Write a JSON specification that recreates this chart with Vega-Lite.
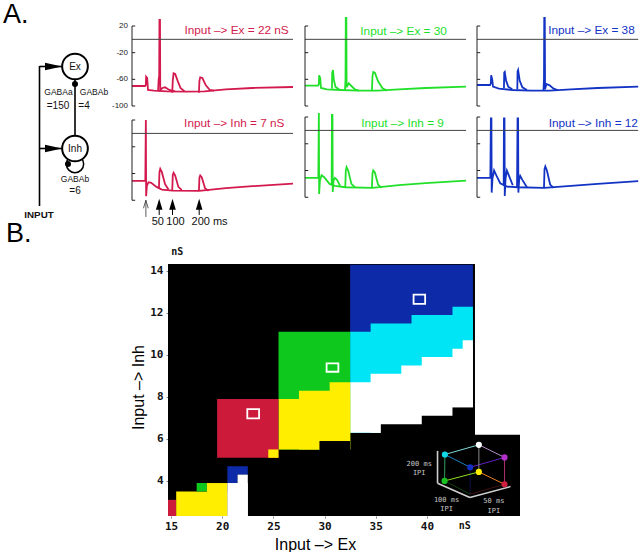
{"$schema":"https://vega.github.io/schema/vega-lite/v6.json","padding":0,"background":"white","spacing":0,"config":{"view":{"stroke":null},"text":{"font":"Liberation Sans"}},
"datasets":{
"traces":[
{"p":"r1","s":"b","t":-52,"v":-70},{"p":"r1","s":"b","t":-3,"v":-70},{"p":"r1","s":"b","t":0,"v":-68},{"p":"r1","s":"b","t":1,"v":-56},{"p":"r1","s":"b","t":5,"v":-58},{"p":"r1","s":"b","t":8,"v":-76},{"p":"r1","s":"b","t":30,"v":-77},{"p":"r1","s":"b","t":80,"v":-78},{"p":"r1","s":"b","t":150,"v":-78.5},{"p":"r1","s":"b","t":220,"v":-78},{"p":"r1","s":"b","t":300,"v":-75},{"p":"r1","s":"b","t":400,"v":-73},{"p":"r1","s":"b","t":552,"v":-71.5},
{"p":"r1","s":"e1","t":46,"v":-77},{"p":"r1","s":"e1","t":48,"v":-60},{"p":"r1","s":"e1","t":50,"v":-55},{"p":"r1","s":"e1","t":51,"v":29},{"p":"r1","s":"e1","t":53,"v":29},{"p":"r1","s":"e1","t":54,"v":-76},{"p":"r1","s":"e1","t":62,"v":-73},{"p":"r1","s":"e1","t":72,"v":-72},{"p":"r1","s":"e1","t":88,"v":-76},{"p":"r1","s":"e1","t":110,"v":-78},
{"p":"r1","s":"e2","t":99,"v":-80},{"p":"r1","s":"e2","t":101,"v":-62},{"p":"r1","s":"e2","t":104,"v":-51},{"p":"r1","s":"e2","t":110,"v":-52},{"p":"r1","s":"e2","t":120,"v":-63},{"p":"r1","s":"e2","t":130,"v":-73},{"p":"r1","s":"e2","t":145,"v":-78},
{"p":"r1","s":"e3","t":199,"v":-80},{"p":"r1","s":"e3","t":201,"v":-62},{"p":"r1","s":"e3","t":204,"v":-57},{"p":"r1","s":"e3","t":212,"v":-58},{"p":"r1","s":"e3","t":225,"v":-69},{"p":"r1","s":"e3","t":240,"v":-76},{"p":"r1","s":"e3","t":255,"v":-77},
{"p":"r2","s":"b","t":-52,"v":-71},{"p":"r2","s":"b","t":-2,"v":-71},{"p":"r2","s":"b","t":0,"v":20},{"p":"r2","s":"b","t":1,"v":-94},{"p":"r2","s":"b","t":4,"v":-78},{"p":"r2","s":"b","t":10,"v":-73},{"p":"r2","s":"b","t":20,"v":-74},{"p":"r2","s":"b","t":40,"v":-80},{"p":"r2","s":"b","t":60,"v":-84},{"p":"r2","s":"b","t":100,"v":-85.5},{"p":"r2","s":"b","t":200,"v":-86},{"p":"r2","s":"b","t":300,"v":-82},{"p":"r2","s":"b","t":400,"v":-79},{"p":"r2","s":"b","t":552,"v":-75},
{"p":"r2","s":"e1","t":49,"v":-83},{"p":"r2","s":"e1","t":51,"v":-58},{"p":"r2","s":"e1","t":54,"v":-53},{"p":"r2","s":"e1","t":60,"v":-58},{"p":"r2","s":"e1","t":72,"v":-76},{"p":"r2","s":"e1","t":85,"v":-84},
{"p":"r2","s":"e2","t":99,"v":-85},{"p":"r2","s":"e2","t":101,"v":-62},{"p":"r2","s":"e2","t":104,"v":-59},{"p":"r2","s":"e2","t":110,"v":-63},{"p":"r2","s":"e2","t":122,"v":-80},{"p":"r2","s":"e2","t":135,"v":-85},
{"p":"r2","s":"e3","t":199,"v":-86},{"p":"r2","s":"e3","t":201,"v":-66},{"p":"r2","s":"e3","t":204,"v":-63},{"p":"r2","s":"e3","t":210,"v":-66},{"p":"r2","s":"e3","t":222,"v":-82},{"p":"r2","s":"e3","t":235,"v":-86},
{"p":"g1","s":"b","t":-52,"v":-69.5},{"p":"g1","s":"b","t":-3,"v":-69.5},{"p":"g1","s":"b","t":0,"v":-67},{"p":"g1","s":"b","t":1,"v":-54},{"p":"g1","s":"b","t":5,"v":-58},{"p":"g1","s":"b","t":8,"v":-73},{"p":"g1","s":"b","t":30,"v":-75},{"p":"g1","s":"b","t":80,"v":-76},{"p":"g1","s":"b","t":150,"v":-77},{"p":"g1","s":"b","t":220,"v":-77},{"p":"g1","s":"b","t":300,"v":-75},{"p":"g1","s":"b","t":400,"v":-73},{"p":"g1","s":"b","t":552,"v":-71},
{"p":"g1","s":"e1","t":49,"v":-74},{"p":"g1","s":"e1","t":50,"v":-50},{"p":"g1","s":"e1","t":53,"v":-46},{"p":"g1","s":"e1","t":56,"v":-60},{"p":"g1","s":"e1","t":62,"v":-71},{"p":"g1","s":"e1","t":75,"v":-75},
{"p":"g1","s":"e2","t":98,"v":-76},{"p":"g1","s":"e2","t":100,"v":-60},{"p":"g1","s":"e2","t":101,"v":32},{"p":"g1","s":"e2","t":103,"v":32},{"p":"g1","s":"e2","t":104,"v":-72},{"p":"g1","s":"e2","t":112,"v":-66},{"p":"g1","s":"e2","t":122,"v":-70},{"p":"g1","s":"e2","t":135,"v":-75},{"p":"g1","s":"e2","t":150,"v":-77},
{"p":"g1","s":"e3","t":199,"v":-77},{"p":"g1","s":"e3","t":201,"v":-56},{"p":"g1","s":"e3","t":204,"v":-49},{"p":"g1","s":"e3","t":210,"v":-50},{"p":"g1","s":"e3","t":222,"v":-63},{"p":"g1","s":"e3","t":238,"v":-73},{"p":"g1","s":"e3","t":255,"v":-77},
{"p":"g2","s":"b","t":-52,"v":-71},{"p":"g2","s":"b","t":-2,"v":-71},{"p":"g2","s":"b","t":0,"v":26},{"p":"g2","s":"b","t":1,"v":-95},{"p":"g2","s":"b","t":4,"v":-75},{"p":"g2","s":"b","t":10,"v":-67},{"p":"g2","s":"b","t":20,"v":-70},{"p":"g2","s":"b","t":40,"v":-80},{"p":"g2","s":"b","t":60,"v":-83},{"p":"g2","s":"b","t":100,"v":-85},{"p":"g2","s":"b","t":200,"v":-86},{"p":"g2","s":"b","t":300,"v":-82},{"p":"g2","s":"b","t":400,"v":-79},{"p":"g2","s":"b","t":552,"v":-75},
{"p":"g2","s":"e1","t":48,"v":-82},{"p":"g2","s":"e1","t":49,"v":23},{"p":"g2","s":"e1","t":51,"v":23},{"p":"g2","s":"e1","t":52,"v":-92},{"p":"g2","s":"e1","t":55,"v":-75},{"p":"g2","s":"e1","t":60,"v":-71},{"p":"g2","s":"e1","t":68,"v":-74},{"p":"g2","s":"e1","t":80,"v":-83},
{"p":"g2","s":"e2","t":99,"v":-85},{"p":"g2","s":"e2","t":101,"v":-60},{"p":"g2","s":"e2","t":104,"v":-55},{"p":"g2","s":"e2","t":110,"v":-60},{"p":"g2","s":"e2","t":122,"v":-80},{"p":"g2","s":"e2","t":135,"v":-85},
{"p":"g2","s":"e3","t":199,"v":-86},{"p":"g2","s":"e3","t":201,"v":-64},{"p":"g2","s":"e3","t":204,"v":-60},{"p":"g2","s":"e3","t":210,"v":-63},{"p":"g2","s":"e3","t":222,"v":-81},{"p":"g2","s":"e3","t":235,"v":-86},
{"p":"b1","s":"b","t":-52,"v":-68.5},{"p":"b1","s":"b","t":-3,"v":-68.5},{"p":"b1","s":"b","t":0,"v":-66},{"p":"b1","s":"b","t":1,"v":-54},{"p":"b1","s":"b","t":5,"v":-60},{"p":"b1","s":"b","t":8,"v":-71},{"p":"b1","s":"b","t":30,"v":-74},{"p":"b1","s":"b","t":80,"v":-76},{"p":"b1","s":"b","t":150,"v":-77},{"p":"b1","s":"b","t":220,"v":-77},{"p":"b1","s":"b","t":300,"v":-75},{"p":"b1","s":"b","t":400,"v":-73},{"p":"b1","s":"b","t":552,"v":-71},
{"p":"b1","s":"e1","t":49,"v":-73},{"p":"b1","s":"e1","t":50,"v":-50},{"p":"b1","s":"e1","t":52,"v":-49},{"p":"b1","s":"e1","t":57,"v":-62},{"p":"b1","s":"e1","t":65,"v":-71},{"p":"b1","s":"e1","t":80,"v":-75},
{"p":"b1","s":"e2","t":99,"v":-75},{"p":"b1","s":"e2","t":100,"v":-48},{"p":"b1","s":"e2","t":102,"v":-46},{"p":"b1","s":"e2","t":108,"v":-62},{"p":"b1","s":"e2","t":118,"v":-72},{"p":"b1","s":"e2","t":135,"v":-76},
{"p":"b1","s":"e3","t":197,"v":-77},{"p":"b1","s":"e3","t":199,"v":-60},{"p":"b1","s":"e3","t":200,"v":32},{"p":"b1","s":"e3","t":202,"v":32},{"p":"b1","s":"e3","t":203,"v":-75},{"p":"b1","s":"e3","t":208,"v":-67},{"p":"b1","s":"e3","t":220,"v":-69},{"p":"b1","s":"e3","t":235,"v":-74},{"p":"b1","s":"e3","t":250,"v":-76},
{"p":"b2","s":"b","t":-52,"v":-71},{"p":"b2","s":"b","t":-2,"v":-71},{"p":"b2","s":"b","t":0,"v":18},{"p":"b2","s":"b","t":2,"v":18},{"p":"b2","s":"b","t":3,"v":-93},{"p":"b2","s":"b","t":6,"v":-72},{"p":"b2","s":"b","t":12,"v":-60},{"p":"b2","s":"b","t":20,"v":-67},{"p":"b2","s":"b","t":35,"v":-79},{"p":"b2","s":"b","t":60,"v":-84},{"p":"b2","s":"b","t":100,"v":-85},{"p":"b2","s":"b","t":200,"v":-86},{"p":"b2","s":"b","t":300,"v":-83},{"p":"b2","s":"b","t":400,"v":-80},{"p":"b2","s":"b","t":552,"v":-76},
{"p":"b2","s":"e1","t":48,"v":-82},{"p":"b2","s":"e1","t":49,"v":18},{"p":"b2","s":"e1","t":51,"v":18},{"p":"b2","s":"e1","t":52,"v":-98},{"p":"b2","s":"e1","t":55,"v":-72},{"p":"b2","s":"e1","t":60,"v":-60},{"p":"b2","s":"e1","t":68,"v":-68},{"p":"b2","s":"e1","t":82,"v":-82},
{"p":"b2","s":"e2","t":98,"v":-85},{"p":"b2","s":"e2","t":100,"v":18},{"p":"b2","s":"e2","t":102,"v":18},{"p":"b2","s":"e2","t":103,"v":-93},{"p":"b2","s":"e2","t":106,"v":-74},{"p":"b2","s":"e2","t":110,"v":-68},{"p":"b2","s":"e2","t":118,"v":-74},{"p":"b2","s":"e2","t":135,"v":-85},
{"p":"b2","s":"e3","t":199,"v":-86},{"p":"b2","s":"e3","t":201,"v":-58},{"p":"b2","s":"e3","t":204,"v":-54},{"p":"b2","s":"e3","t":210,"v":-60},{"p":"b2","s":"e3","t":222,"v":-81},{"p":"b2","s":"e3","t":235,"v":-86}
],
"frame":[{"v":0,"a":-52,"b":552,"lo":-100,"hi":20}],
"ticks":[{"v":20,"a":-52,"b":-40,"l":"20"},{"v":-20,"a":-52,"b":-40,"l":"-20"},{"v":-60,"a":-52,"b":-40,"l":"-60"},{"v":-100,"a":-52,"b":-40,"l":"-100"}],
"stems":[{"t":50,"a":-112,"b":-122},{"t":100,"a":-112,"b":-122},{"t":200,"a":-112,"b":-122}],
"heat":[
{"s":"bg","x":14.7,"x2":44.7,"y":2.33,"y2":14.33},{"s":"bg","x":44.5,"x2":49.1,"y":2.33,"y2":6.2},
{"s":"blue","x":32.5,"x2":44.5,"y":6.3,"y2":14.3},
{"s":"cyan","x":32.5,"x2":44.5,"y":6.3,"y2":11.1},{"s":"cyan","x":34.5,"x2":44.5,"y":6.3,"y2":11.5},{"s":"cyan","x":38.5,"x2":44.5,"y":6.3,"y2":11.9},{"s":"cyan","x":42.5,"x2":44.5,"y":6.3,"y2":12.3},
{"s":"white","x":32.5,"x2":44.5,"y":6.3,"y2":8.7},{"s":"white","x":34.5,"x2":44.5,"y":6.3,"y2":9.1},{"s":"white","x":37.5,"x2":44.5,"y":6.3,"y2":9.5},{"s":"white","x":39.5,"x2":44.5,"y":6.3,"y2":9.9},{"s":"white","x":42.5,"x2":44.5,"y":6.3,"y2":10.3},{"s":"white","x":43.5,"x2":44.5,"y":6.3,"y2":10.7},
{"s":"bg","x":35.5,"x2":44.7,"y":6.2,"y2":6.7},{"s":"bg","x":39.5,"x2":44.7,"y":6.2,"y2":7.1},{"s":"bg","x":42.5,"x2":44.7,"y":6.2,"y2":7.5},
{"s":"green","x":25.5,"x2":32.5,"y":5.5,"y2":11.1},
{"s":"yellow","x":25.5,"x2":32.5,"y":5.5,"y2":7.9},{"s":"yellow","x":27.5,"x2":32.5,"y":5.5,"y2":8.3},{"s":"yellow","x":30.5,"x2":32.5,"y":5.5,"y2":8.7},
{"s":"bg","x":29.5,"x2":32.5,"y":5.4,"y2":5.9},
{"s":"red","x":19.5,"x2":25.5,"y":5.1,"y2":7.9},{"s":"yellow","x":24.5,"x2":25.5,"y":5.1,"y2":5.5},
{"s":"red","x":14.7,"x2":15.5,"y":2.33,"y2":3.1},{"s":"yellow","x":15.5,"x2":20.5,"y":2.33,"y2":3.5},{"s":"green","x":17.5,"x2":18.5,"y":3.5,"y2":3.9},{"s":"yellow","x":18.5,"x2":20.5,"y":2.33,"y2":3.9},
{"s":"blue","x":20.5,"x2":22.5,"y":3.9,"y2":4.7},{"s":"bg","x":21.5,"x2":22.5,"y":3.9,"y2":4.3},{"s":"white","x":20.5,"x2":22.5,"y":2.33,"y2":3.9},{"s":"white","x":21.5,"x2":22.5,"y":2.33,"y2":4.3}
],
"marks":[{"x":22.45,"x2":23.6,"y":6.98,"y2":7.42},{"x":30.2,"x2":31.35,"y":9.2,"y2":9.6},{"x":38.7,"x2":39.83,"y":12.43,"y2":12.87}],
"edges":[
{"c":"cw","x":41.76,"y":5.26,"x2":45.08,"y2":5.72},{"c":"wm","x":45.08,"y":5.72,"x2":47.59,"y2":5.12},{"c":"cb","x":41.76,"y":5.26,"x2":44.23,"y2":4.65},{"c":"bm","x":44.23,"y":4.65,"x2":47.59,"y2":5.12},{"c":"wy","x":45.08,"y":5.72,"x2":45.08,"y2":4.43},{"c":"bk","x":44.23,"y":4.65,"x2":44.23,"y2":3.37},{"c":"cg","x":41.76,"y":5.26,"x2":41.73,"y2":4.0},{"c":"mr","x":47.59,"y":5.12,"x2":47.59,"y2":3.84},{"c":"gy","x":41.73,"y":4.0,"x2":45.08,"y2":4.43},{"c":"yr","x":45.08,"y":4.43,"x2":47.59,"y2":3.84},{"c":"gk","x":41.73,"y":4.0,"x2":44.23,"y2":3.37},{"c":"rk","x":47.59,"y":3.84,"x2":44.23,"y2":3.37}],
"cubeaxes":[{"x":41.04,"y":5.43,"x2":41.04,"y2":3.89},{"x":41.04,"y":3.89,"x2":44.2,"y2":3.21},{"x":44.2,"y":3.21,"x2":48.17,"y2":3.73}],
"corners":[{"c":"white","x":45.08,"y":5.72},{"c":"cyan","x":41.76,"y":5.26},{"c":"magenta","x":47.59,"y":5.12},{"c":"blue","x":44.23,"y":4.65},{"c":"yellow","x":45.08,"y":4.43},{"c":"green","x":41.73,"y":4.0},{"c":"red","x":47.59,"y":3.84}],
"cubetext":[{"x":39.25,"y":4.81,"t":"200 ms"},{"x":39.25,"y":4.37,"t":"IPI"},{"x":41.92,"y":3.09,"t":"100 ms"},{"x":41.92,"y":2.65,"t":"IPI"},{"x":46.54,"y":3.03,"t":"50 ms"},{"x":46.54,"y":2.59,"t":"IPI"}],
"units":[{"x":15.6,"y":14.9,"t":"nS"},{"x":43.7,"y":1.85,"t":"nS"}]
},
"vconcat":[
{"spacing":0,"hconcat":[
{"width":111,"height":245,"layer":[
{"data":{"values":[{"x":39.5,"y":66.5,"x2":62,"y2":66.5},{"x":39.5,"y":148.5,"x2":62,"y2":148.5},{"x":39.5,"y":66,"x2":39.5,"y2":206},{"x":75,"y":80,"x2":75,"y2":135}]},"mark":{"type":"rule","stroke":"black","strokeWidth":1.6},"encoding":{"x":{"field":"x","type":"quantitative","axis":null,"scale":{"domain":[0,111],"nice":false,"zero":false}},"y":{"field":"y","type":"quantitative","axis":null,"scale":{"domain":[245,0],"nice":false,"zero":false}},"x2":{"field":"x2"},"y2":{"field":"y2"}}},
{"data":{"values":[{"x":53.5,"y":66.5},{"x":53.5,"y":148.5}]},"mark":{"type":"point","shape":"M-1,-0.45L1,0L-1,0.45Z","filled":true,"color":"black","size":289,"opacity":1},"encoding":{"x":{"field":"x","type":"quantitative"},"y":{"field":"y","type":"quantitative"}}},
{"data":{"values":[{"x":75,"y":164}]},"mark":{"type":"point","shape":"circle","stroke":"black","strokeWidth":1.5,"size":300,"opacity":1},"encoding":{"x":{"field":"x","type":"quantitative"},"y":{"field":"y","type":"quantitative"}}},
{"data":{"values":[{"x":75,"y":66.5},{"x":75,"y":148.5}]},"mark":{"type":"point","shape":"circle","fill":"white","stroke":"black","strokeWidth":2,"size":660,"opacity":1},"encoding":{"x":{"field":"x","type":"quantitative"},"y":{"field":"y","type":"quantitative"}}},
{"data":{"values":[{"x":75,"y":84},{"x":68,"y":164}]},"mark":{"type":"point","shape":"circle","filled":true,"color":"black","size":36,"opacity":1},"encoding":{"x":{"field":"x","type":"quantitative"},"y":{"field":"y","type":"quantitative"}}},
{"data":{"values":[{"x":75,"y":67,"t":"Ex","z":"m"},{"x":75,"y":148.5,"t":"Inh","z":"m"},{"x":58.5,"y":92,"t":"GABAa","z":"s"},{"x":94,"y":92,"t":"GABAb","z":"s"},{"x":58,"y":106,"t":"=150","z":"m"},{"x":84,"y":106,"t":"=4","z":"m"},{"x":75,"y":178.5,"t":"GABAb","z":"s"},{"x":75,"y":191,"t":"=6","z":"m"}]},"mark":{"type":"text","baseline":"middle","align":"center","color":"#111"},"encoding":{"x":{"field":"x","type":"quantitative"},"y":{"field":"y","type":"quantitative"},"text":{"field":"t"},"size":{"field":"z","type":"nominal","legend":null,"scale":{"domain":["s","m"],"range":[8.5,10]}}}},
{"data":{"values":[{"x":39,"y":215,"t":"INPUT"}]},"mark":{"type":"text","baseline":"middle","align":"center","fontSize":9.8,"fontWeight":"bold","color":"#111"},"encoding":{"x":{"field":"x","type":"quantitative"},"y":{"field":"y","type":"quantitative"},"text":{"field":"t"}}},
{"data":{"values":[{"x":3,"y":23,"t":"A."},{"x":6,"y":242,"t":"B."}]},"mark":{"type":"text","baseline":"alphabetic","align":"left","fontSize":27,"color":"black"},"encoding":{"x":{"field":"x","type":"quantitative"},"y":{"field":"y","type":"quantitative"},"text":{"field":"t"}}}
]},
{"spacing":2,"vconcat":[
{"width":169,"height":106,"layer":[
{"data":{"name":"traces"},"transform":[{"filter":"datum.p==='r1'"}],"mark":{"type":"line","color":"#d31a4e","strokeWidth":1.8},"encoding":{"x":{"field":"t","type":"quantitative","axis":null,"scale":{"domain":[-52,582],"nice":false,"zero":false}},"y":{"field":"v","type":"quantitative","scale":{"domain":[-100,59],"nice":false,"zero":false},"axis":null},"detail":{"field":"s"}}},
{"data":{"name":"frame"},"mark":{"type":"rule","stroke":"#444","strokeWidth":1},"encoding":{"y":{"field":"v","type":"quantitative"},"x":{"field":"a","type":"quantitative"},"x2":{"field":"b"}}},
{"data":{"name":"frame"},"mark":{"type":"rule","stroke":"#222","strokeWidth":1},"encoding":{"x":{"field":"a","type":"quantitative"},"y":{"field":"lo","type":"quantitative"},"y2":{"field":"hi"}}},
{"data":{"name":"ticks"},"mark":{"type":"rule","stroke":"#222","strokeWidth":1},"encoding":{"y":{"field":"v","type":"quantitative"},"x":{"field":"a","type":"quantitative"},"x2":{"field":"b"}}},
{"data":{"name":"ticks"},"mark":{"type":"text","align":"right","baseline":"middle","dx":-4,"fontSize":8,"color":"#222"},"encoding":{"y":{"field":"v","type":"quantitative"},"x":{"field":"a","type":"quantitative"},"text":{"field":"l"}}},
{"data":{"values":[{"t":536,"v":14,"l":"Input –> Ex = 22 nS"}]},"mark":{"type":"text","align":"right","baseline":"middle","fontSize":11.8,"color":"#d31a4e"},"encoding":{"x":{"field":"t","type":"quantitative"},"y":{"field":"v","type":"quantitative"},"text":{"field":"l"}}}
]},
{"width":169,"height":115,"layer":[
{"data":{"name":"traces"},"transform":[{"filter":"datum.p==='r2'"}],"mark":{"type":"line","color":"#d31a4e","strokeWidth":1.8},"encoding":{"x":{"field":"t","type":"quantitative","axis":null,"scale":{"domain":[-52,582],"nice":false,"zero":false}},"y":{"field":"v","type":"quantitative","scale":{"domain":[-140,32],"nice":false,"zero":false},"axis":null},"detail":{"field":"s"}}},
{"data":{"name":"frame"},"mark":{"type":"rule","stroke":"#444","strokeWidth":1},"encoding":{"y":{"field":"v","type":"quantitative"},"x":{"field":"a","type":"quantitative"},"x2":{"field":"b"}}},
{"data":{"name":"frame"},"mark":{"type":"rule","stroke":"#222","strokeWidth":1},"encoding":{"x":{"field":"a","type":"quantitative"},"y":{"field":"lo","type":"quantitative"},"y2":{"field":"hi"}}},
{"data":{"name":"ticks"},"mark":{"type":"rule","stroke":"#222","strokeWidth":1},"encoding":{"y":{"field":"v","type":"quantitative"},"x":{"field":"a","type":"quantitative"},"x2":{"field":"b"}}},
{"data":{"values":[{"t":520,"v":15.5,"l":"Input –> Inh = 7 nS"}]},"mark":{"type":"text","align":"right","baseline":"middle","fontSize":11.8,"color":"#d31a4e"},"encoding":{"x":{"field":"t","type":"quantitative"},"y":{"field":"v","type":"quantitative"},"text":{"field":"l"}}},
{"data":{"name":"stems"},"mark":{"type":"rule","stroke":"black","strokeWidth":1},"encoding":{"x":{"field":"t","type":"quantitative"},"y":{"field":"a","type":"quantitative"},"y2":{"field":"b"}}},
{"data":{"name":"stems"},"mark":{"type":"point","shape":"M-0.6,1L0,-1L0.6,1Z","filled":true,"color":"black","size":121,"opacity":1},"encoding":{"x":{"field":"t","type":"quantitative"},"y":{"datum":-106,"type":"quantitative"}}},
{"data":{"values":[{"t":0,"a":-100,"b":-125}]},"mark":{"type":"rule","stroke":"#333","strokeWidth":0.8},"encoding":{"x":{"field":"t","type":"quantitative"},"y":{"field":"a","type":"quantitative"},"y2":{"field":"b"}}},
{"data":{"values":[{"t":0,"v":-106}]},"mark":{"type":"point","shape":"M-0.6,1L0,-1L0.6,1","stroke":"#333","strokeWidth":0.8,"size":64,"opacity":1},"encoding":{"x":{"field":"t","type":"quantitative"},"y":{"field":"v","type":"quantitative"}}},
{"data":{"values":[{"t":45,"v":-132,"l":"50"},{"t":111,"v":-132,"l":"100"},{"t":239,"v":-132,"l":"200 ms"}]},"mark":{"type":"text","align":"center","baseline":"middle","fontSize":11,"color":"#111"},"encoding":{"x":{"field":"t","type":"quantitative"},"y":{"field":"v","type":"quantitative"},"text":{"field":"l"}}}
]}
]},
{"spacing":2,"vconcat":[
{"width":168,"height":106,"layer":[
{"data":{"name":"traces"},"transform":[{"filter":"datum.p==='g1'"}],"mark":{"type":"line","color":"#22e02a","strokeWidth":1.8},"encoding":{"x":{"field":"t","type":"quantitative","axis":null,"scale":{"domain":[-52,578],"nice":false,"zero":false}},"y":{"field":"v","type":"quantitative","scale":{"domain":[-100,59],"nice":false,"zero":false},"axis":null},"detail":{"field":"s"}}},
{"data":{"name":"frame"},"mark":{"type":"rule","stroke":"#444","strokeWidth":1},"encoding":{"y":{"field":"v","type":"quantitative"},"x":{"field":"a","type":"quantitative"},"x2":{"field":"b"}}},
{"data":{"name":"frame"},"mark":{"type":"rule","stroke":"#222","strokeWidth":1},"encoding":{"x":{"field":"a","type":"quantitative"},"y":{"field":"lo","type":"quantitative"},"y2":{"field":"hi"}}},
{"data":{"name":"ticks"},"mark":{"type":"rule","stroke":"#222","strokeWidth":1},"encoding":{"y":{"field":"v","type":"quantitative"},"x":{"field":"a","type":"quantitative"},"x2":{"field":"b"}}},
{"data":{"values":[{"t":480,"v":12.5,"l":"Input –> Ex = 30"}]},"mark":{"type":"text","align":"right","baseline":"middle","fontSize":11.8,"color":"#22e02a"},"encoding":{"x":{"field":"t","type":"quantitative"},"y":{"field":"v","type":"quantitative"},"text":{"field":"l"}}}
]},
{"width":168,"height":115,"layer":[
{"data":{"name":"traces"},"transform":[{"filter":"datum.p==='g2'"}],"mark":{"type":"line","color":"#22e02a","strokeWidth":1.8},"encoding":{"x":{"field":"t","type":"quantitative","axis":null,"scale":{"domain":[-52,578],"nice":false,"zero":false}},"y":{"field":"v","type":"quantitative","scale":{"domain":[-140,32],"nice":false,"zero":false},"axis":null},"detail":{"field":"s"}}},
{"data":{"name":"frame"},"mark":{"type":"rule","stroke":"#444","strokeWidth":1},"encoding":{"y":{"field":"v","type":"quantitative"},"x":{"field":"a","type":"quantitative"},"x2":{"field":"b"}}},
{"data":{"name":"frame"},"mark":{"type":"rule","stroke":"#222","strokeWidth":1},"encoding":{"x":{"field":"a","type":"quantitative"},"y":{"field":"lo","type":"quantitative"},"y2":{"field":"hi"}}},
{"data":{"name":"ticks"},"mark":{"type":"rule","stroke":"#222","strokeWidth":1},"encoding":{"y":{"field":"v","type":"quantitative"},"x":{"field":"a","type":"quantitative"},"x2":{"field":"b"}}},
{"data":{"values":[{"t":469,"v":11.5,"l":"Input –> Inh = 9"}]},"mark":{"type":"text","align":"right","baseline":"middle","fontSize":11.8,"color":"#22e02a"},"encoding":{"x":{"field":"t","type":"quantitative"},"y":{"field":"v","type":"quantitative"},"text":{"field":"l"}}}
]}
]},
{"spacing":2,"vconcat":[
{"width":162,"height":106,"layer":[
{"data":{"name":"traces"},"transform":[{"filter":"datum.p==='b1'"}],"mark":{"type":"line","color":"#1233c4","strokeWidth":1.8},"encoding":{"x":{"field":"t","type":"quantitative","axis":null,"scale":{"domain":[-52,555],"nice":false,"zero":false}},"y":{"field":"v","type":"quantitative","scale":{"domain":[-100,59],"nice":false,"zero":false},"axis":null},"detail":{"field":"s"}}},
{"data":{"name":"frame"},"mark":{"type":"rule","stroke":"#444","strokeWidth":1},"encoding":{"y":{"field":"v","type":"quantitative"},"x":{"field":"a","type":"quantitative"},"x2":{"field":"b"}}},
{"data":{"name":"frame"},"mark":{"type":"rule","stroke":"#222","strokeWidth":1},"encoding":{"x":{"field":"a","type":"quantitative"},"y":{"field":"lo","type":"quantitative"},"y2":{"field":"hi"}}},
{"data":{"name":"ticks"},"mark":{"type":"rule","stroke":"#222","strokeWidth":1},"encoding":{"y":{"field":"v","type":"quantitative"},"x":{"field":"a","type":"quantitative"},"x2":{"field":"b"}}},
{"data":{"values":[{"t":539,"v":14,"l":"Input –> Ex = 38"}]},"mark":{"type":"text","align":"right","baseline":"middle","fontSize":11.8,"color":"#1233c4"},"encoding":{"x":{"field":"t","type":"quantitative"},"y":{"field":"v","type":"quantitative"},"text":{"field":"l"}}}
]},
{"width":162,"height":115,"layer":[
{"data":{"name":"traces"},"transform":[{"filter":"datum.p==='b2'"}],"mark":{"type":"line","color":"#1233c4","strokeWidth":1.8},"encoding":{"x":{"field":"t","type":"quantitative","axis":null,"scale":{"domain":[-52,555],"nice":false,"zero":false}},"y":{"field":"v","type":"quantitative","scale":{"domain":[-140,32],"nice":false,"zero":false},"axis":null},"detail":{"field":"s"}}},
{"data":{"name":"frame"},"mark":{"type":"rule","stroke":"#444","strokeWidth":1},"encoding":{"y":{"field":"v","type":"quantitative"},"x":{"field":"a","type":"quantitative"},"x2":{"field":"b"}}},
{"data":{"name":"frame"},"mark":{"type":"rule","stroke":"#222","strokeWidth":1},"encoding":{"x":{"field":"a","type":"quantitative"},"y":{"field":"lo","type":"quantitative"},"y2":{"field":"hi"}}},
{"data":{"name":"ticks"},"mark":{"type":"rule","stroke":"#222","strokeWidth":1},"encoding":{"y":{"field":"v","type":"quantitative"},"x":{"field":"a","type":"quantitative"},"x2":{"field":"b"}}},
{"data":{"values":[{"t":551,"v":11,"l":"Input –> Inh = 12"}]},"mark":{"type":"text","align":"right","baseline":"middle","fontSize":11.8,"color":"#1233c4"},"encoding":{"x":{"field":"t","type":"quantitative"},"y":{"field":"v","type":"quantitative"},"text":{"field":"l"}}}
]}
]}
]},
{"spacing":0,"hconcat":[
{"width":130,"height":10,"data":{"values":[{"t":""}]},"mark":"text","encoding":{"text":{"field":"t"}}},
{"width":352,"height":252,"layer":[
{"data":{"name":"heat"},"mark":{"type":"rect"},"encoding":{"x":{"field":"x","type":"quantitative","scale":{"domain":[14.7,49.1],"nice":false,"zero":false},"axis":{"values":[15,20,25,30,35,40],"domain":false,"grid":false,"title":"Input –> Ex","titleFont":"Liberation Sans","titleFontSize":16,"titleFontWeight":"normal","titleX":147,"titleY":20,"tickSize":2,"labelPadding":2,"labelFont":"DejaVu Sans Mono","labelFontSize":11,"labelFontWeight":"bold","labelColor":"#111"}},"x2":{"field":"x2"},"y":{"field":"y","type":"quantitative","scale":{"domain":[2.33,14.33],"nice":false,"zero":false},"axis":{"values":[4,6,8,10,12,14],"domain":false,"grid":false,"title":"Input –> Inh","titleFont":"Liberation Sans","titleFontSize":16,"titleFontWeight":"normal","titleX":-22,"titleY":123,"tickSize":2,"labelPadding":3,"labelFont":"DejaVu Sans Mono","labelFontSize":11,"labelFontWeight":"bold","labelColor":"#111"}},"y2":{"field":"y2"},"color":{"field":"s","type":"nominal","legend":null,"scale":{"domain":["bg","red","green","blue","yellow","cyan","white"],"range":["#000000","#cc1a3a","#0fc81e","#0d2aa8","#ffee00","#00e5f5","#ffffff"]}}}},
{"data":{"name":"marks"},"mark":{"type":"rect","fillOpacity":0,"stroke":"white","strokeWidth":1.8},"encoding":{"x":{"field":"x","type":"quantitative"},"x2":{"field":"x2"},"y":{"field":"y","type":"quantitative"},"y2":{"field":"y2"}}},
{"data":{"name":"cubeaxes"},"mark":{"type":"rule","stroke":"#cfcfcf","strokeWidth":1.6},"encoding":{"x":{"field":"x","type":"quantitative"},"x2":{"field":"x2"},"y":{"field":"y","type":"quantitative"},"y2":{"field":"y2"}}},
{"data":{"name":"edges"},"mark":{"type":"rule","strokeWidth":1},"encoding":{"x":{"field":"x","type":"quantitative"},"x2":{"field":"x2"},"y":{"field":"y","type":"quantitative"},"y2":{"field":"y2"},"stroke":{"field":"c","type":"nominal","legend":null,"scale":{"domain":["cw","wm","cb","bm","wy","bk","cg","mr","gy","yr","gk","rk"],"range":["#7fd8d8","#b28cc8","#1a80c0","#6020c0","#888888","#101040","#30a060","#b03070","#90e020","#f08020","#104010","#401010"]}}}},
{"data":{"name":"corners"},"mark":{"type":"point","shape":"circle","filled":true,"size":38,"opacity":1},"encoding":{"x":{"field":"x","type":"quantitative"},"y":{"field":"y","type":"quantitative"},"fill":{"field":"c","type":"nominal","legend":null,"scale":{"domain":["white","cyan","magenta","blue","yellow","green","red"],"range":["#ffffff","#10d8e8","#b030c8","#1030c0","#ffee00","#18c020","#d02040"]}}}},
{"data":{"name":"cubetext"},"mark":{"type":"text","font":"DejaVu Sans Mono","fontSize":7,"color":"#c8c8c8","align":"center","baseline":"middle"},"encoding":{"x":{"field":"x","type":"quantitative"},"y":{"field":"y","type":"quantitative"},"text":{"field":"t"}}},
{"data":{"name":"units"},"mark":{"type":"text","font":"DejaVu Sans Mono","fontSize":10,"fontWeight":"bold","color":"#111","align":"center","baseline":"middle"},"encoding":{"x":{"field":"x","type":"quantitative"},"y":{"field":"y","type":"quantitative"},"text":{"field":"t"}}}
]}
]}
]}
